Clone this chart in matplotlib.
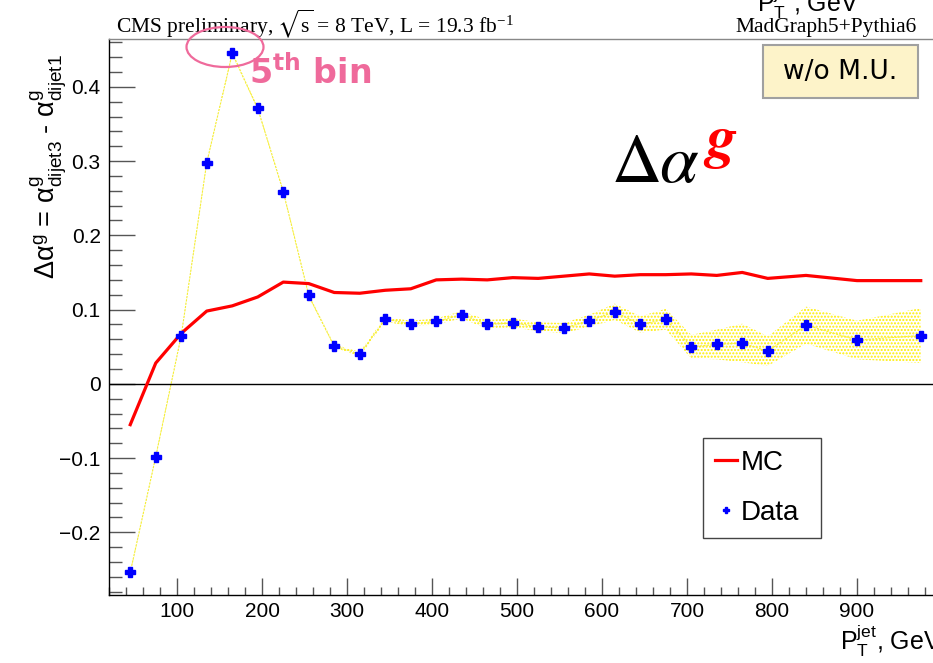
import matplotlib
matplotlib.use("Agg")
import matplotlib.pyplot as plt
from matplotlib.patches import Ellipse, Rectangle
from matplotlib.lines import Line2D
from matplotlib.ticker import MultipleLocator

plt.rcParams['mathtext.default'] = 'regular'
plt.rcParams['hatch.linewidth'] = 1.0

# jet pT bin centres, GeV
pt_centers = [45, 75, 105, 135, 165, 195, 225, 255, 285, 315, 345, 375, 405,
              435, 465, 495, 525, 555, 585, 615, 645, 675, 705, 735, 765, 795,
              840, 900, 975]

# delta alpha^g measured in data, with its uncertainty
data_vals = [-0.254, -0.098, 0.065, 0.298, 0.445, 0.371, 0.259, 0.119, 0.051,
             0.040, 0.087, 0.081, 0.084, 0.093, 0.080, 0.082, 0.077, 0.075,
             0.085, 0.097, 0.080, 0.087, 0.050, 0.053, 0.055, 0.044, 0.079,
             0.059, 0.065]
data_err = [0.002, 0.002, 0.002, 0.002, 0.002, 0.002, 0.002, 0.002, 0.002,
            0.003, 0.003, 0.004, 0.004, 0.005, 0.006, 0.006, 0.006, 0.007,
            0.008, 0.011, 0.011, 0.014, 0.016, 0.020, 0.026, 0.020, 0.025,
            0.026, 0.037]

# MadGraph5+Pythia6 prediction
mc_vals = [-0.055, 0.028, 0.068, 0.098, 0.105, 0.117, 0.137, 0.135, 0.123,
           0.122, 0.126, 0.128, 0.140, 0.141, 0.140, 0.143, 0.142, 0.145,
           0.148, 0.145, 0.147, 0.147, 0.148, 0.146, 0.150, 0.142, 0.146,
           0.139, 0.139]

xticks = [100, 200, 300, 400, 500, 600, 700, 800, 900]
xtick_labels = ['100', '200', '300', '400', '500', '600', '700', '800', '900']
yticks = [-0.2, -0.1, 0, 0.1, 0.2, 0.3, 0.4]
ytick_labels = ['\u22120.2', '\u22120.1', '0', '0.1', '0.2', '0.3', '0.4']

W, H = 933, 663
PINK = '#ef6a9b'


def fx(x):
    return x / W


def fy(y):
    return 1 - y / H


fig = plt.figure(figsize=(W / 100, H / 100), dpi=100)
ax = fig.add_axes([fx(109), fy(595), (942 - 109) / W, (595 - 39) / H])

lo = [v - e for v, e in zip(data_vals, data_err)]
hi = [v + e for v, e in zip(data_vals, data_err)]
ax.fill_between(pt_centers, lo, hi, facecolor='none', edgecolor='#ffee00',
                hatch='.....', linewidth=0, zorder=1)
ax.plot(pt_centers, data_vals, color='#f4ee3c', lw=0.8, ls=(0, (2, 1)),
        zorder=1)

ax.plot(pt_centers, mc_vals, color='#ff0000', lw=2.3, zorder=3)
ax.plot(pt_centers, data_vals, ls='none', marker='P', ms=6.5, color='#0000ff',
        mec='#0000ff', zorder=4)

ax.axhline(0, color='black', lw=1, zorder=2)

ax.set_xlim(20, 1000)
ax.set_ylim(-0.2844, 0.4644)
ax.set_xticks(xticks)
ax.set_xticklabels(xtick_labels)
ax.set_yticks(yticks)
ax.set_yticklabels(ytick_labels)
ax.xaxis.set_minor_locator(MultipleLocator(20))
ax.yaxis.set_minor_locator(MultipleLocator(0.02))

for lab in ax.get_xticklabels() + ax.get_yticklabels():
    lab.set_family('Liberation Sans')
    lab.set_fontsize(15)

ax.tick_params(axis='y', which='major', direction='in', length=19, width=1,
               color='#555555', pad=6)
ax.tick_params(axis='y', which='minor', direction='in', length=9, width=1,
               color='#555555')
ax.tick_params(axis='x', which='major', direction='in', length=12, width=1,
               color='#555555', pad=5)
ax.tick_params(axis='x', which='minor', direction='in', length=6, width=1,
               color='#555555')

for side in ['left', 'bottom']:
    ax.spines[side].set_color('black')
    ax.spines[side].set_linewidth(1)
ax.spines['top'].set_color('#888888')
ax.spines['top'].set_linewidth(1)
ax.spines['right'].set_visible(False)

ax.set_xlabel(r'P$_{T}^{jet}$, GeV', loc='right', family='Liberation Sans',
              fontsize=18, labelpad=1)

fig.text(fx(48), fy(54),
         'Δα$^{g}$ = α$^{g}_{dijet3}$ - α$^{g}_{dijet1}$',
         rotation=90, ha='center', va='top', family='Liberation Sans',
         fontsize=19.5)

# header texts
fig.text(fx(116), fy(32), r'CMS preliminary, $\sqrt{s}$ = 8 TeV, L = 19.3 fb$^{-1}$',
         family='Liberation Serif', fontsize=15.5, math_fontfamily='stix',
         va='baseline')
fig.text(fx(917), fy(32), 'MadGraph5+Pythia6', family='Liberation Serif',
         fontsize=15.5, ha='right', va='baseline')
fig.text(fx(757), fy(12), r'P$_{T}^{jet}$, GeV', family='Liberation Sans',
         fontsize=18, va='baseline')

handles = [Line2D([], [], color='#ff0000', lw=2.3),
           Line2D([], [], ls='none', marker='P', ms=5, color='#0000ff')]
leg = ax.legend(handles, ['MC', 'Data'], loc='upper left',
                bbox_to_anchor=(fx(703), fy(438), (821 - 703) / W, 0),
                bbox_transform=fig.transFigure, mode='expand',
                prop={'family': 'Liberation Sans', 'size': 20},
                handlelength=0.8, handletextpad=0.15, borderpad=0.42,
                labelspacing=0.88, borderaxespad=0, fancybox=False,
                framealpha=1, edgecolor='#444444')
leg.get_frame().set_linewidth(1)
leg.set_zorder(6)

# annotation of the peak bin
fig.add_artist(Ellipse((fx(225), fy(47)), 77 / W, 40 / H,
                       transform=fig.transFigure, fill=False,
                       edgecolor=PINK, lw=1.6, zorder=10))
fig.text(fx(249), fy(83.5), r'5$^{\mathbf{th}}$ bin', color=PINK,
         weight='bold', fontsize=24, family='DejaVu Sans',
         math_fontfamily='dejavusans', va='baseline')

# sample label box
fig.add_artist(Rectangle((fx(763), fy(98)), 155 / W, 53 / H,
                         transform=fig.transFigure, facecolor='#fdf3c9',
                         edgecolor='#a0a0a0', lw=1.5, zorder=5))
fig.text(fx(840), fy(72), 'w/o M.U.', ha='center', va='center',
         family='DejaVu Sans', fontsize=19, zorder=6)

# big quantity label
fig.text(fx(612), fy(182), 'Δ', family='STIXGeneral', fontsize=50,
         va='baseline')
fig.text(fx(659), fy(182), 'α', family='STIXGeneral', style='italic',
         fontsize=50, va='baseline')
fig.text(fx(706), fy(157), 'g', family='STIXGeneral', style='italic',
         weight='bold', color='#ff0000', fontsize=44, va='baseline')

fig.savefig('out.png', dpi=100)
